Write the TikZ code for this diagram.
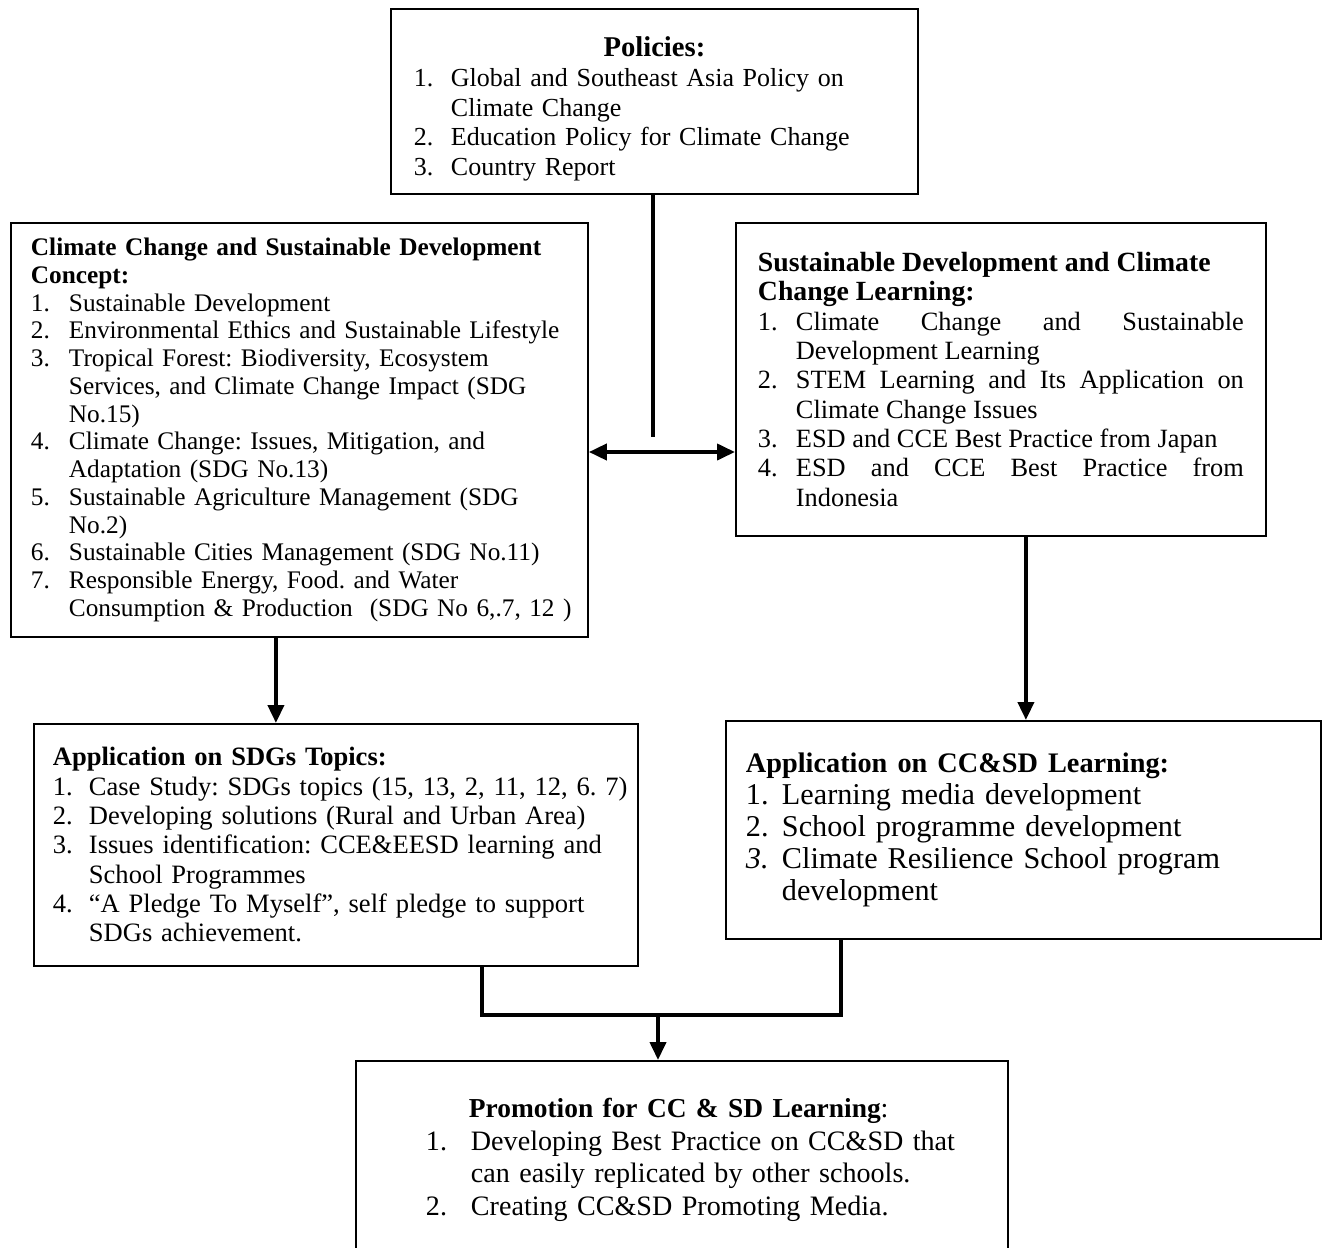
\documentclass[tikz,border=0pt]{standalone}
\usepackage{fontspec}
\setmainfont{Liberation Serif}
\usetikzlibrary{arrows.meta,positioning,calc}
\newlength\itmind
\newcommand{\itm}[2]{\par\hangindent=\itmind\hangafter=1\noindent\makebox[\itmind][l]{#1}#2\par}
\newcommand{\hd}[2]{{\fontsize{#1}{#1}\selectfont\bfseries #2}}
\tikzset{
  panel/.style={draw=black,line width=1.1pt,anchor=north west,
                align=left,inner ysep=0pt},
  linkline/.style={line width=2.2pt},
  linkarr/.style={-{Triangle[length=3.6mm,width=3.2mm]},line width=2.2pt},
  botharr/.style={{Triangle[length=3.6mm,width=3.2mm]}-{Triangle[length=3.6mm,width=3.2mm]},line width=2.2pt}
}
\begin{document}
\frenchspacing
\begin{tikzpicture}[x=0.02cm,y=-0.02cm]
  \useasboundingbox (0,0) rectangle (1324,1247);

  \node[panel,minimum width=10.54cm,minimum height=3.7cm,inner xsep=0.14cm,text width=10.26cm,
        font={\fontsize{14.8}{16.9}\selectfont\setlength\itmind{0.74cm}}] (policies) at (390,8)
    {\leftskip=0.32cm{\centering\rule{0pt}{20pt}\hd{16.3}{Policies:}\par}
     \itm{1.}{Global and Southeast Asia Policy on\newline Climate Change}
     \itm{2.}{Education Policy for Climate Change}
     \itm{3.}{Country Report}};

  \node[panel,minimum width=11.54cm,minimum height=8.28cm,inner xsep=0.2cm,text width=11.14cm,
        font={\fontsize{14.4}{15.8}\selectfont\setlength\itmind{0.76cm}}] (concept) at (10,222)
    {\leftskip=0.2cm\textbf{Climate Change and Sustainable Development}\\\textbf{Concept:}
     \itm{1.}{Sustainable Development}
     \itm{2.}{Environmental Ethics and Sustainable Lifestyle}
     \itm{3.}{Tropical Forest: Biodiversity, Ecosystem\newline Services, and Climate Change Impact (SDG\newline No.15)}
     \itm{4.}{Climate Change: Issues, Mitigation, and\newline Adaptation (SDG No.13)}
     \itm{5.}{Sustainable Agriculture Management (SDG\newline No.2)}
     \itm{6.}{Sustainable Cities Management (SDG No.11)}
     \itm{7.}{Responsible Energy, Food. and Water\newline Consumption \& Production\ \ (SDG No 6,.7, 12 )}};

  \node[panel,align=justify,minimum width=10.6cm,minimum height=6.26cm,inner xsep=0.44cm,text width=9.72cm,
        font={\fontsize{15}{16.7}\selectfont\setlength\itmind{0.76cm}}] (learning) at (735,222)
    {\hd{15.8}{Sustainable Development and Climate}\\\hd{15.8}{Change Learning:}
     \itm{1.}{Climate Change and Sustainable\linebreak Development Learning}
     \itm{2.}{STEM Learning and Its Application on\linebreak Climate Change Issues}
     \itm{3.}{ESD and CCE Best Practice from Japan}
     \itm{4.}{ESD and CCE Best Practice from\linebreak Indonesia}};

  \node[panel,minimum width=12.08cm,minimum height=4.84cm,inner xsep=0.14cm,text width=11.8cm,
        font={\fontsize{15.1}{16.7}\selectfont\setlength\itmind{0.72cm}}] (sdgs) at (33,723)
    {\leftskip=0.24cm\textbf{Application on SDGs Topics:}
     \itm{1.}{Case Study: SDGs topics (15, 13, 2, 11, 12, 6. 7)}
     \itm{2.}{Developing solutions (Rural and Urban Area)}
     \itm{3.}{Issues identification: CCE\&EESD learning and\newline School Programmes}
     \itm{4.}{“A Pledge To Myself”, self pledge to support\newline SDGs achievement.}};

  \node[panel,minimum width=11.9cm,minimum height=4.36cm,inner xsep=0.4cm,text width=11.1cm,
        font={\fontsize{17.2}{18.2}\selectfont\setlength\itmind{0.72cm}}] (ccsd) at (725,720)
    {\hd{16.1}{Application on CC\&SD Learning:}
     \itm{1.}{Learning media development}
     \itm{2.}{School programme development}
     \itm{\textit{3.}}{Climate Resilience School program\newline development}};

  \node[panel,minimum width=13.04cm,minimum height=3.96cm,inner xsep=0.4cm,text width=12.24cm,
        font={\fontsize{16}{18.5}\selectfont\setlength\itmind{0.9cm}}] (promo) at (355,1060)
    {\leftskip=1cm\hspace*{0.86cm}\hd{15.6}{Promotion for CC \& SD Learning}:
     \itm{1.}{Developing Best Practice on CC\&SD that\newline can easily replicated by other schools.}
     \itm{2.}{Creating CC\&SD Promoting Media.}};

  % links between the panels
  \coordinate (stem) at (653,437);
  \coordinate (hub) at (660,452);
  \coordinate (join) at (658,1015);
  \draw[linkline] (policies.south -| stem) -- (stem);
  \draw[botharr] (concept.east |- hub) -- (learning.west |- hub);
  \draw[linkarr] ([xshift=-0.47cm]concept.south) -- ([xshift=-0.47cm]concept.south |- sdgs.north);
  \draw[linkarr] ([xshift=0.5cm]learning.south) -- ([xshift=0.5cm]learning.south |- ccsd.north);
  \draw[linkline] ([xshift=2.92cm]sdgs.south) |- (join) -| ([xshift=-3.65cm]ccsd.south);
  \draw[linkarr] (join) -- (join |- promo.north);
\end{tikzpicture}
\end{document}
